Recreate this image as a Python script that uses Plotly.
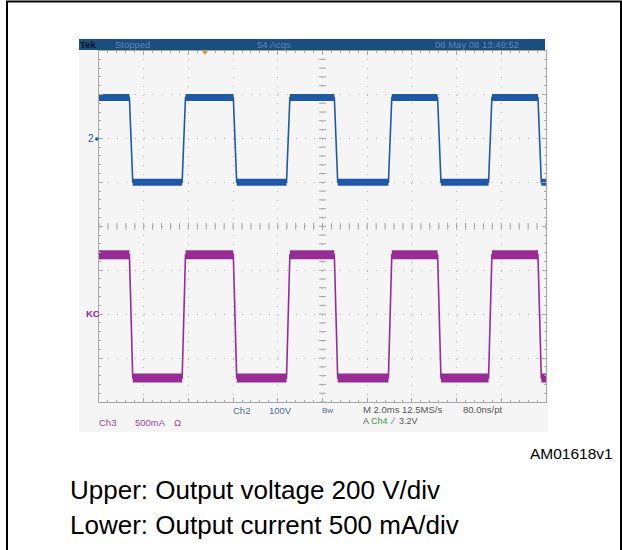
import numpy as np
import plotly.graph_objects as go

# ---------------- data ----------------
time_per_div_ms = 2.0
n_hdiv = 10
n_vdiv = 8

# switching instants (ms from left edge of screen)
fall_times_ms = [1.36, 6.01, 10.53, 15.15, 19.64]
rise_times_ms = [3.72, 8.39, 12.95, 17.43]

# channel 2 : output voltage
ch2_V_per_div = 100
ch2_offset_div = 2
ch2_levels_V = [93, -100]          # high, low

# channel 3 : output current
ch3_mA_per_div = 500
ch3_offset_div = -2
ch3_levels_mA = [675, -727]        # high, low

trigger_time_ms = 4.74

top_bar_texts = ["Tek", "Stopped", "54 Acqs", "08 May 08 13:49:52"]
caption_lines = ["Upper: Output voltage 200 V/div", "Lower: Output current 500 mA/div"]
figure_id = "AM01618v1"

# ---------------- geometry helpers ----------------
W, H = 622, 550
GX0, GX1, GY0, GY1 = 99, 546, 50.5, 402   # graticule in pixels


def fx(px):
    return px / W


def fy(py):
    return 1 - py / H


t_end = n_hdiv * time_per_div_ms
RAMP = 0.15


def square_wave(hi, lo):
    edges = sorted([(t, lo) for t in fall_times_ms] + [(t, hi) for t in rise_times_ms])
    xs, ys, cur = [0.0], [hi], hi
    for t, new in edges:
        xs += [t, t + RAMP]
        ys += [cur, new]
        cur = new
    xs.append(t_end)
    ys.append(cur)
    # plateau segments
    px, py = [], []
    for i in range(0, len(xs), 2):
        px += [xs[i], xs[i + 1], None]
        py += [ys[i], ys[i + 1], None]
    return xs, ys, px, py


blue = "#1f58a6"
mag = "#962c94"

v_hi = ch2_offset_div + ch2_levels_V[0] / ch2_V_per_div
v_lo = ch2_offset_div + ch2_levels_V[1] / ch2_V_per_div
i_hi = ch3_offset_div + ch3_levels_mA[0] / ch3_mA_per_div
i_lo = ch3_offset_div + ch3_levels_mA[1] / ch3_mA_per_div

bx, by, bpx, bpy = square_wave(v_hi, v_lo)
mx, my, mpx, mpy = square_wave(i_hi, i_lo)

fig = go.Figure()

# graticule centre-line ticks
ht = np.arange(0, t_end + 1e-9, time_per_div_ms / 5)
vt = np.arange(-n_vdiv / 2, n_vdiv / 2 + 1e-9, 0.2)
fig.add_trace(go.Scatter(x=ht, y=np.zeros_like(ht), mode="markers", hoverinfo="skip",
                         marker=dict(symbol="line-ns", size=5, line=dict(width=1, color="#a4a4a4"))))
fig.add_trace(go.Scatter(x=np.full_like(vt, t_end / 2), y=vt, mode="markers", hoverinfo="skip",
                         marker=dict(symbol="line-ew", size=5, line=dict(width=1, color="#a4a4a4"))))

# traces
fig.add_trace(go.Scatter(x=bpx, y=bpy, mode="lines", line=dict(color=blue, width=7), hoverinfo="skip"))
fig.add_trace(go.Scatter(x=bx, y=by, mode="lines", line=dict(color=blue, width=1.6), hoverinfo="skip"))
fig.add_trace(go.Scatter(x=mpx, y=mpy, mode="lines", line=dict(color=mag, width=9), hoverinfo="skip"))
fig.add_trace(go.Scatter(x=mx, y=my, mode="lines", line=dict(color=mag, width=1.6), hoverinfo="skip"))

# trigger marker
fig.add_trace(go.Scatter(x=[trigger_time_ms], y=[n_vdiv / 2], mode="markers", cliponaxis=False,
                         marker=dict(symbol="triangle-down", size=9, color="#e8902c"), hoverinfo="skip"))

axis_common = dict(showticklabels=False, zeroline=False, showline=True, linecolor="#a8a8a8",
                   linewidth=1, mirror="ticks", ticks="inside", ticklen=4, tickcolor="#a8a8a8",
                   gridcolor="#b4b4b4", gridwidth=1, fixedrange=True)

fig.update_layout(
    width=W, height=H,
    margin=dict(l=0, r=0, t=0, b=0),
    paper_bgcolor="white",
    plot_bgcolor="rgba(0,0,0,0)",
    showlegend=False,
    xaxis=dict(range=[0, t_end], domain=[fx(GX0), fx(GX1)], dtick=time_per_div_ms, tick0=0,
               griddash="1px,7.8px",
               minor=dict(dtick=time_per_div_ms / 5, ticks="inside", ticklen=2, tickcolor="#a8a8a8"),
               **axis_common),
    yaxis=dict(range=[-n_vdiv / 2, n_vdiv / 2], domain=[fy(GY1), fy(GY0)], dtick=1, tick0=0,
               griddash="1px,7.94px",
               minor=dict(dtick=0.2, ticks="inside", ticklen=2, tickcolor="#a8a8a8"),
               **axis_common),
)

shapes = [
    # scope screen background
    dict(type="rect", xref="paper", yref="paper", x0=fx(79), x1=fx(548), y0=fy(432), y1=fy(38),
         fillcolor="#f5f5f5", line=dict(width=0), layer="below"),
    # top status bar
    dict(type="rect", xref="paper", yref="paper", x0=fx(79), x1=fx(545), y0=fy(50), y1=fy(39),
         fillcolor="#1b4d7d", line=dict(width=0), layer="above"),
    # ch2 ground marker dot
    dict(type="circle", xref="paper", yref="paper", x0=fx(95), x1=fx(98.5), y0=fy(140.8), y1=fy(137.3),
         fillcolor=blue, line=dict(width=0)),
    # outer frame
    dict(type="rect", xref="paper", yref="paper", x0=fx(7), x1=fx(621), y0=fy(570), y1=fy(1.5),
         fillcolor="rgba(0,0,0,0)", line=dict(color="black", width=2)),
]
fig.update_layout(shapes=shapes)

SF = "Liberation Sans, Arial, sans-serif"


def txt(x, y, s, color, size, anchor="left", bold=False):
    if bold:
        s = "<b>" + s + "</b>"
    fig.add_annotation(xref="paper", yref="paper", x=fx(x), y=fy(y), text=s, showarrow=False,
                       xanchor=anchor, yanchor="middle", font=dict(family=SF, size=size, color=color),
                       borderpad=0)


# status bar
txt(79, 44.5, top_bar_texts[0], "#0c1620", 9.5, bold=True)
txt(114, 44.5, top_bar_texts[1], "#5f88b6", 9.5)
txt(256, 44.5, top_bar_texts[2], "#5f88b6", 9.5)
txt(434, 44.5, top_bar_texts[3], "#5f88b6", 9.5)

# channel markers
txt(87, 139, "2", blue, 10)
txt(85.5, 313.5, "KC", mag, 9.5, bold=True)

# bottom readouts
txt(232, 410.5, "Ch2", "#4a6ea6", 9.5)
txt(268, 410.5, "100V", "#4a6ea6", 9.5)
txt(321, 410.5, "Bw", "#4a6ea6", 8)
txt(362, 409.5, "M 2.0ms 12.5MS/s", "#555555", 9.5)
txt(462, 409.5, "80.0ns/pt", "#555555", 9.5)
txt(362, 420.5, "A <span style='color:#3a9a3a'>Ch4</span>  \u2215  3.2V", "#555555", 9)
txt(98, 422.5, "Ch3", "#9b4a9b", 9.5)
txt(134, 422.5, "500mA", "#9b4a9b", 9.5)
txt(173, 422.5, "\u03a9", "#9b4a9b", 9.5)

# figure id and caption
txt(614, 453.5, figure_id, "black", 15.5, anchor="right")
txt(69, 490, caption_lines[0], "black", 26)
txt(69, 524.5, caption_lines[1], "black", 26)

fig.write_html("out.html", config={"displayModeBar": False},
               post_script="document.body.style.margin='0px';")
